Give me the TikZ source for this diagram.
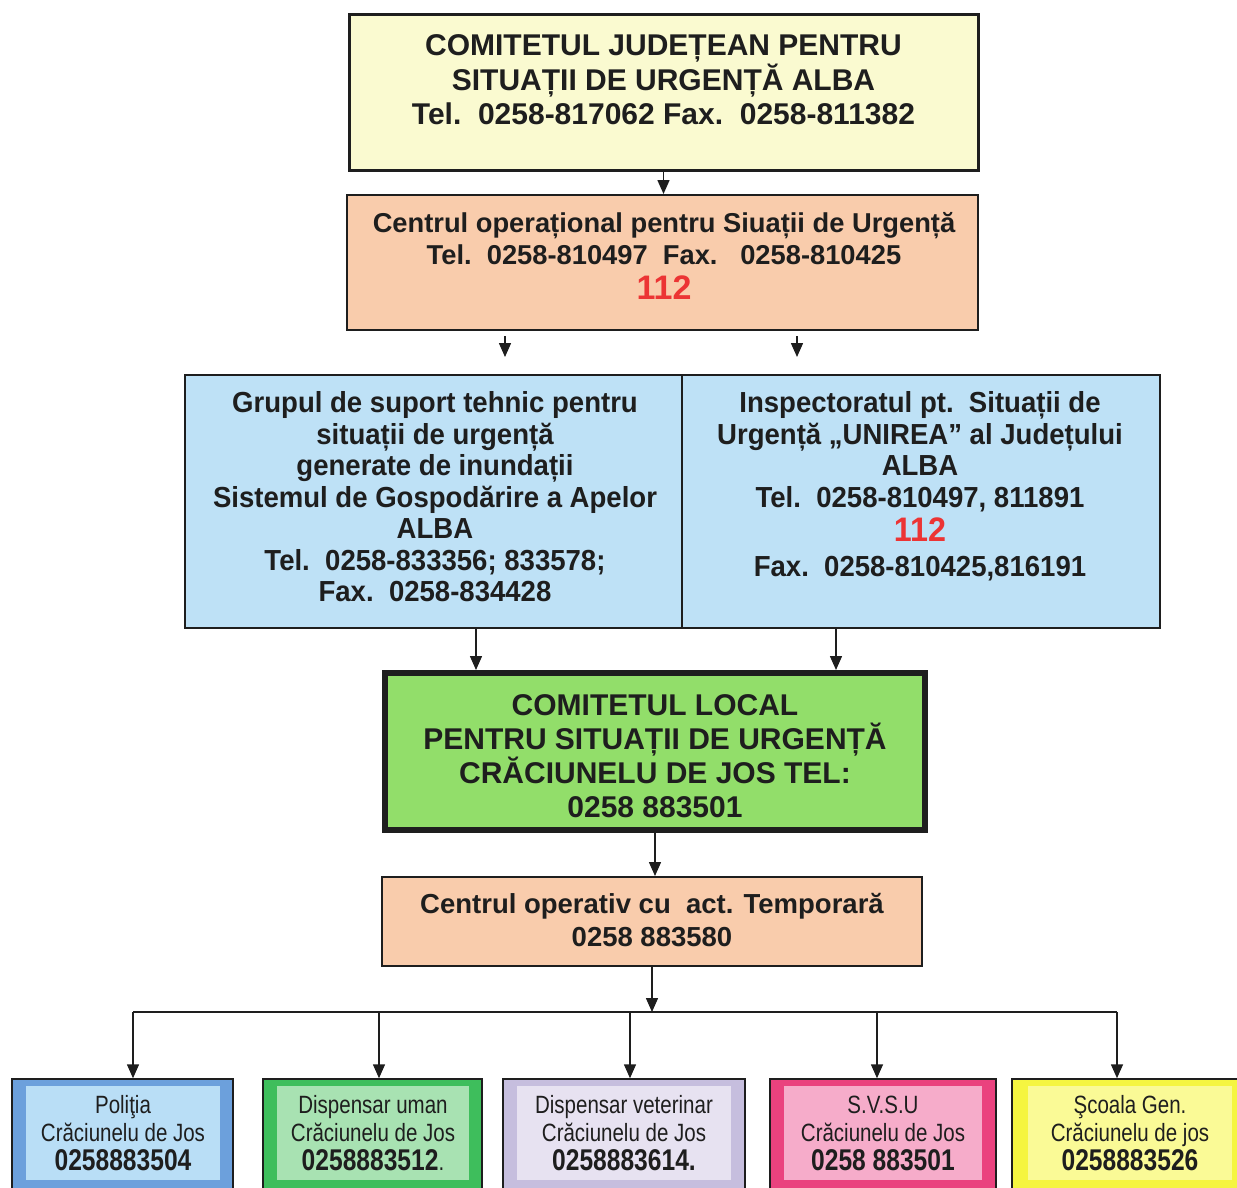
\documentclass[tikz,border=0pt]{standalone}
\usepackage{fontspec}
\setmainfont{Liberation Sans}
\newfontfamily\narrowfont[FakeStretch=0.82]{Liberation Sans}
\newfontfamily\semifont[FakeStretch=0.95]{Liberation Sans}
\usetikzlibrary{arrows.meta}
\definecolor{cyellow}{RGB}{250,250,208}
\definecolor{cpeach}{RGB}{249,204,172}
\definecolor{cblue}{RGB}{190,225,246}
\definecolor{cgreen}{RGB}{146,222,106}
\definecolor{cred}{RGB}{236,52,52}
\definecolor{ink}{RGB}{30,30,30}
\definecolor{polO}{RGB}{108,160,220}
\definecolor{polI}{RGB}{185,222,246}
\definecolor{disO}{RGB}{62,190,92}
\definecolor{disI}{RGB}{168,226,178}
\definecolor{vetO}{RGB}{198,190,222}
\definecolor{vetI}{RGB}{231,226,241}
\definecolor{svsO}{RGB}{234,66,126}
\definecolor{svsI}{RGB}{246,172,202}
\definecolor{scoO}{RGB}{245,245,64}
\definecolor{scoI}{RGB}{250,250,150}
\tikzset{
  box/.style={rectangle, draw=ink, line width=2pt, inner sep=0pt, anchor=center},
  txt/.style={align=center, text=ink, inner sep=0pt},
  arr/.style={draw=ink, line width=1.5pt, -{Triangle[width=12pt,length=14pt]}},
  line/.style={draw=ink, line width=1.5pt},
  outerbox/.style={rectangle, draw=ink, line width=1.5pt, inner sep=0pt},
  innerbox/.style={rectangle, inner sep=0pt, align=center, text=ink,
     font=\narrowfont\fontsize{25}{28.5}\selectfont}
}
\newcommand{\bignum}[1]{{\bfseries\fontsize{30}{28.5}\selectfont #1}}
\begin{document}
\begin{tikzpicture}[x=1pt,y=-1pt]
\useasboundingbox (0,0) rectangle (1237,1187);
\fill[white] (0,0) rectangle (1237,1187);
\clip (0,0) rectangle (1237,1187);

% top box
\node[box, line width=3pt, fill=cyellow, minimum width=629pt, minimum height=156pt] (cj) at (663.5,92) {};
\node[txt, font=\bfseries\fontsize{30}{34.5}\selectfont] (cjt) at (663.5,80)
  {COMITETUL JUDEȚEAN PENTRU\\SITUAȚII DE URGENȚĂ ALBA\\Tel.\ \ 0258-817062 Fax.\ \ 0258-811382};

% centrul operational
\node[box, fill=cpeach, minimum width=631pt, minimum height=135pt] (cop) at (662.5,262.5) {};
\node[txt, font=\bfseries\fontsize{27.3}{32}\selectfont] (copt) at (664,256)
  {Centrul operațional pentru Siuații de Urgență\\Tel.\ \ 0258-810497\ \ Fax.\ \ \ 0258-810425\\[3pt]{\fontsize{34}{36}\selectfont\color{cred}112}};

% blue boxes
\node[box, fill=cblue, minimum width=497pt, minimum height=253pt] (gst) at (433.5,501.5) {};
\node[txt, font=\semifont\bfseries\fontsize{29}{31.5}\selectfont] (gstt) at (435,497)
  {Grupul de suport tehnic pentru\\situații de urgență\\generate de inundații\\Sistemul de Gospodărire a Apelor\\ALBA\\Tel.\ \ 0258-833356; 833578;\\Fax.\ \ 0258-834428};
\node[box, fill=cblue, minimum width=478pt, minimum height=253pt] (isu) at (921,501.5) {};
\node[txt, font=\semifont\bfseries\fontsize{29}{31.5}\selectfont] (isut) at (920,486)
  {Inspectoratul pt.\ \ Situații de\\Urgență „UNIREA” al Județului\\ALBA\\Tel.\ \ 0258-810497, 811891\\[3pt]{\fontsize{34}{36}\selectfont\color{cred}112}\\[3pt]Fax.\ \ 0258-810425,816191};

% green box
\node[box, line width=6pt, fill=cgreen, minimum width=540pt, minimum height=157pt] (cl) at (655,751.5) {};
\node[txt, font=\bfseries\fontsize{30}{34}\selectfont] (clt) at (655,756)
  {COMITETUL LOCAL\\PENTRU SITUAȚII DE URGENȚĂ\\CRĂCIUNELU DE JOS TEL:\\0258 883501};

% centrul operativ
\node[box, fill=cpeach, minimum width=540pt, minimum height=89pt] (cot) at (652,921.5) {};
\node[txt, font=\bfseries\fontsize{27.5}{33}\selectfont] (cott) at (652,920)
  {Centrul operativ cu\ \ act. Temporară\\0258 883580};

% bottom boxes
\node[outerbox, fill=polO, minimum width=221pt, minimum height=118pt] (pol) at (122.5,1138) {};
\node[innerbox, fill=polI, minimum width=194pt, minimum height=94pt] (polt) at (123,1133)
  {Poliţia\\Crăciunelu de Jos\\\bignum{0258883504}};
\node[outerbox, fill=disO, minimum width=219pt, minimum height=118pt] (dis) at (372.5,1138) {};
\node[innerbox, fill=disI, minimum width=192pt, minimum height=94pt] (dist) at (373,1133)
  {Dispensar uman\\Crăciunelu de Jos\\\bignum{0258883512}.};
\node[outerbox, fill=vetO, minimum width=242pt, minimum height=118pt] (vet) at (624,1138) {};
\node[innerbox, fill=vetI, minimum width=214pt, minimum height=94pt] (vett) at (624,1133)
  {Dispensar veterinar\\Crăciunelu de Jos\\\bignum{0258883614.}};
\node[outerbox, fill=svsO, minimum width=226pt, minimum height=118pt] (svs) at (883,1138) {};
\node[innerbox, fill=svsI, minimum width=198pt, minimum height=94pt] (svst) at (883,1133)
  {S.V.S.U\\Crăciunelu de Jos\\\bignum{0258 883501}};
\node[outerbox, fill=scoO, minimum width=236pt, minimum height=118pt] (sco) at (1130,1138) {};
\node[innerbox, fill=scoI, minimum width=204pt, minimum height=94pt] (scot) at (1130,1133)
  {Şcoala Gen.\\Crăciunelu de jos\\\bignum{0258883526}};

% connectors
\draw[arr] (cj.south) -- (cj.south |- cop.north);
\coordinate (a1s) at (505,336); \coordinate (a1e) at (505,357);
\coordinate (a2s) at (797,336); \coordinate (a2e) at (797,357);
\draw[arr] (a1s) -- (a1e);
\draw[arr] (a2s) -- (a2e);
\coordinate (b1) at (476,0); \coordinate (b2) at (836,0);
\draw[arr] (b1 |- gst.south) -- (b1 |- cl.north);
\draw[arr] (b2 |- isu.south) -- (b2 |- cl.north);
\draw[arr] (cl.south) -- (cl.south |- cot.north);
\coordinate (bus) at (652,1012);
\draw[arr] (cot.south) -- (bus);
\coordinate (bl) at (133,1012); \coordinate (br) at (1117,1012);
\draw[line] (bl) -- (br);
\draw[arr] (bl) -- (bl |- pol.north);
\draw[arr] (379,1012) coordinate (bd) -- (bd |- dis.north);
\draw[arr] (630,1012) coordinate (bv) -- (bv |- vet.north);
\draw[arr] (877,1012) coordinate (bs) -- (bs |- svs.north);
\draw[arr] (br) -- (br |- sco.north);
\end{tikzpicture}
\end{document}
